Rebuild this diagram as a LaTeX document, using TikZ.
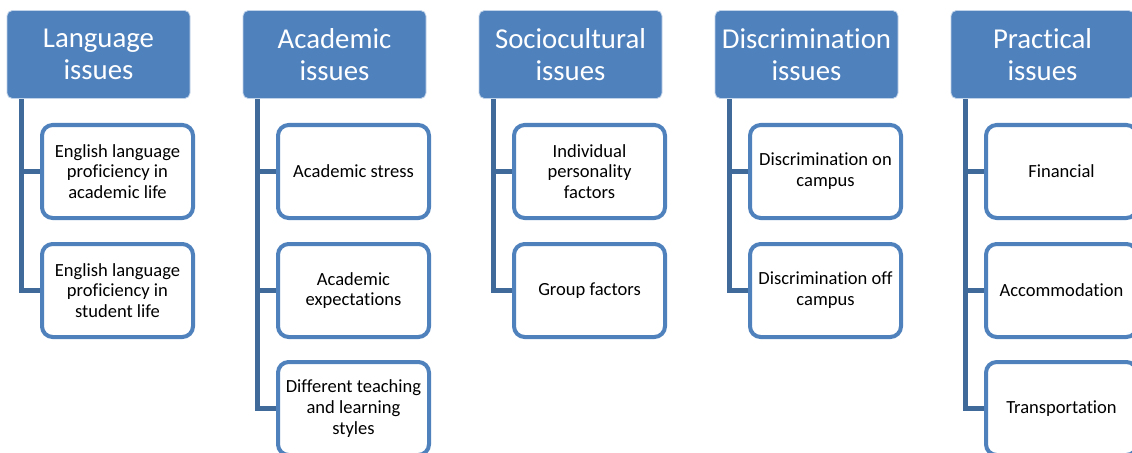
\documentclass[tikz,border=0pt]{standalone}
\usepackage{fontspec}
\setmainfont{Carlito}[Ligatures=NoCommon]
\usepackage{tikz}
\usetikzlibrary{calc,backgrounds}
\definecolor{headblue}{RGB}{79,129,189}
\definecolor{linkblue}{RGB}{64,106,153}
\newcommand{\boxcolor}{headblue}
\newcommand{\linkcolor}{linkblue}
\newcommand{\thickness}{3pt}
\tikzset{
  head/.style={fill=\boxcolor, draw=white!65!\boxcolor, line width=0.6pt, rounded corners=4pt,
    text=white, minimum width=137.25pt, minimum height=66pt, inner sep=0pt, align=center,
    font=\fontsize{21.6}{24}\selectfont},
  item/.style={fill=white, draw=\boxcolor, line width=\thickness, rounded corners=8pt,
    minimum width=113.25pt, minimum height=69.75pt, inner sep=0pt, align=center,
    font=\fontsize{13.9}{15.6}\selectfont},
  link/.style={draw=\linkcolor, line width=3.6pt}
}

\begin{document}
\begin{tikzpicture}[x=0.75pt, y=-0.75pt]
\useasboundingbox (0,0) rectangle (1132,453);
%language
\node[head] (h1) at (98.5, 54.5) {Language\\issues};
\node[item] (c11) at (117.5, 171.5) {English language\\proficiency in\\academic life};
\node[item] (c12) at (117.5, 290.5) {English language\\proficiency in\\student life};
%academic
\node[head] (h2) at (334.5, 54.5) {Academic\\issues};
\node[item] (c21) at (353.5, 171.5) {Academic stress};
\node[item] (c22) at (353.5, 290.5) {Academic\\expectations};
\node[item] (c23) at (353.5, 408.5) {Different teaching\\and learning\\styles};
%sociocultural
\node[head] (h3) at (570.5, 54.5) {Sociocultural\\issues};
\node[item] (c31) at (589.5, 171.5) {Individual\\personality\\factors};
\node[item] (c32) at (589.5, 290.5) {Group factors};
%discrimination
\node[head] (h4) at (806.5, 54.5) {Discrimination\\issues};
\node[item] (c41) at (825.5, 171.5) {Discrimination on\\campus};
\node[item] (c42) at (825.5, 290.5) {Discrimination off\\campus};
%practical
\node[head] (h5) at (1042.5, 54.5) {Practical\\issues};
\node[item] (c51) at (1061.5, 171.5) {Financial};
\node[item] (c52) at (1061.5, 290.5) {Accommodation};
\node[item] (c53) at (1061.5, 408.5) {Transportation};
\coordinate (t1) at ([xshift=11.25pt]h1.south west);
\coordinate (t2) at ([xshift=11.25pt]h2.south west);
\coordinate (t3) at ([xshift=11.25pt]h3.south west);
\coordinate (t4) at ([xshift=11.25pt]h4.south west);
\coordinate (t5) at ([xshift=11.25pt]h5.south west);
\begin{scope}[on background layer]
\draw[link] (t1) |- (c11.west);
\draw[link] (t1) |- (c12.west);
\draw[link] (t2) |- (c21.west);
\draw[link] (t2) |- (c22.west);
\draw[link] (t2) |- (c23.west);
\draw[link] (t3) |- (c31.west);
\draw[link] (t3) |- (c32.west);
\draw[link] (t4) |- (c41.west);
\draw[link] (t4) |- (c42.west);
\draw[link] (t5) |- (c51.west);
\draw[link] (t5) |- (c52.west);
\draw[link] (t5) |- (c53.west);
\end{scope}
\end{tikzpicture}
\end{document}
